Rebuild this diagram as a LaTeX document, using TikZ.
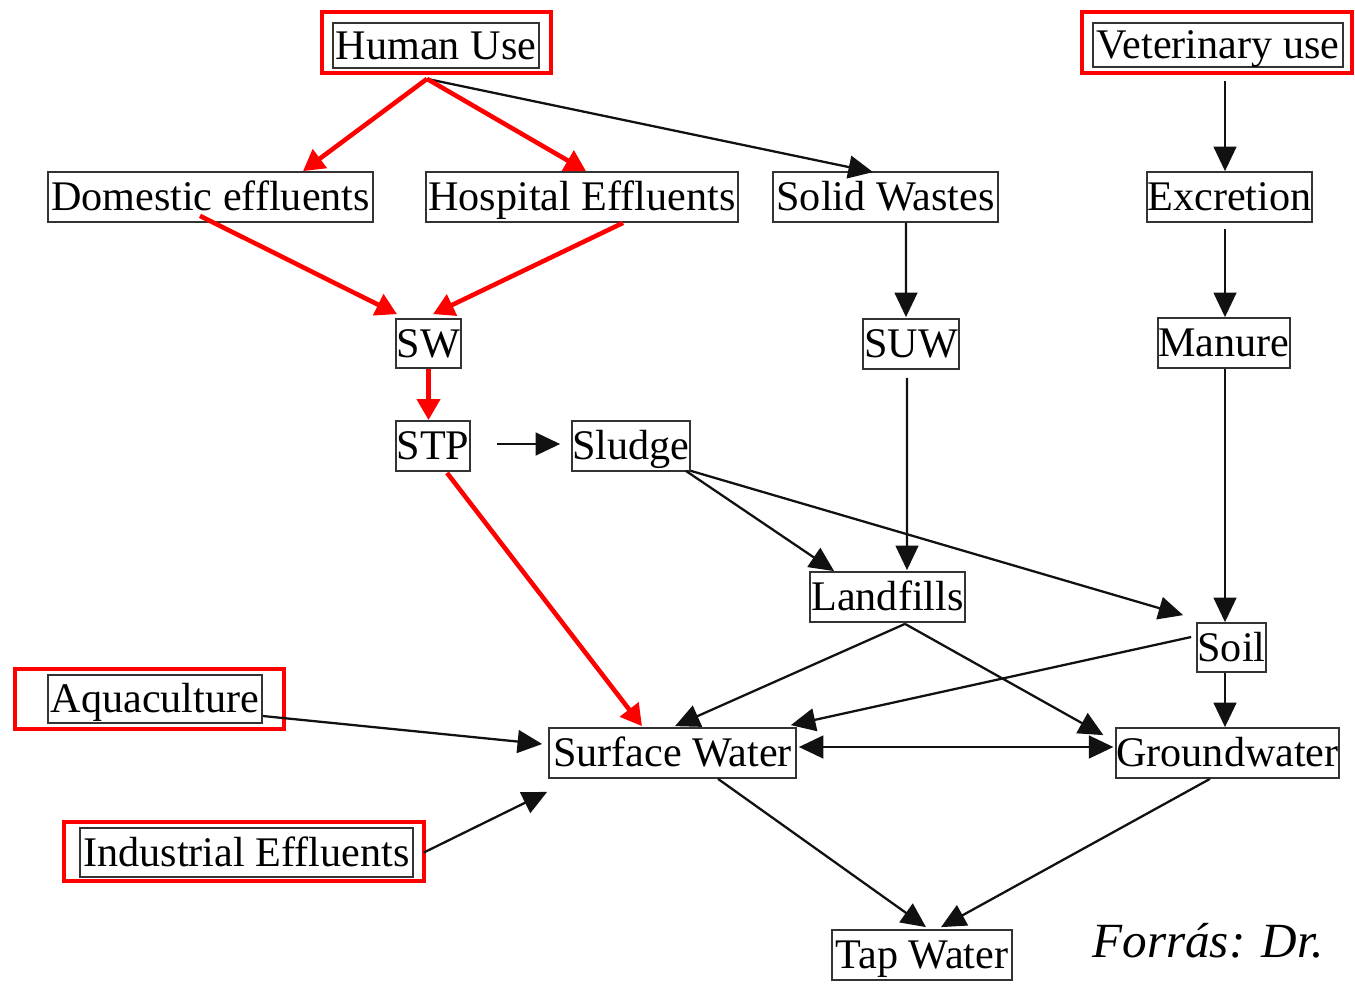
\documentclass[tikz,border=0pt]{standalone}
\usepackage{fontspec}
\setmainfont{Liberation Serif}[Ligatures=NoCommon]
\usepackage{xcolor}
\usepackage{tikz}
\usetikzlibrary{arrows.meta, positioning, calc}
\definecolor{C_RED} {HTML}{FF0000}
\definecolor{C_BOX} {HTML}{333333}
\definecolor{C_LINE}{HTML}{111111}
\tikzset{
  %% -- plain box of the flow chart --
  FL/box/.style={
    draw=C_BOX, line width=1pt, inner sep=0pt,
    minimum height=1cm, align=center,
    text height=17pt, text depth=1.1pt,
    font=\fontsize{24}{26}\selectfont
  },
  %% -- red frame round a source box --
  FL/frame/.style={draw=C_RED, line width=2.6pt},
  %% -- black flow arrow --
  FL/arr/.style={-{Triangle[length=14pt, width=13pt]}, line width=1.3pt, color=C_LINE},
  %% -- black two-way arrow --
  FL/both/.style={{Triangle[length=14pt, width=13pt]}-{Triangle[length=14pt, width=13pt]},
    line width=1.3pt, color=C_LINE},
  %% -- red (human use) arrow --
  FL/red/.style={-{Triangle[length=12pt, width=13pt]}, line width=2.6pt, color=C_RED},
  %% -- source note --
  FL/note/.style={font=\fontsize{28}{30}\selectfont\itshape, inner sep=0pt},
}

\begin{document}
\begin{tikzpicture}[x=0.02cm, y=-0.02cm]
\useasboundingbox (0,0) rectangle (1355,987);

%% ── Sources ──────────────────────────────────────────────────
\node[FL/box, minimum width=4.12cm, minimum height=0.9cm] (hum) at (436,45.5) {Human Use};
\node[FL/box, minimum width=5.0cm, minimum height=0.88cm] (vet) at (1218,45) {Veterinary use};
\node[FL/box, minimum width=4.28cm, minimum height=0.96cm] (aqu) at (155,699) {Aquaculture};
\node[FL/box, minimum width=6.66cm, minimum height=0.98cm] (ind) at (246.5,852.5) {Industrial Effluents};

%% red frames round the sources
\draw[FL/frame] ($(hum.north west)+(-10,-10)$) rectangle ($(hum.south east)+(11,4)$);
\draw[FL/frame] ($(vet.north west)+(-10,-10)$) rectangle ($(vet.south east)+(8,5)$);
\draw[FL/frame] ($(aqu.north west)+(-32,-5)$) rectangle ($(aqu.south east)+(21,5)$);
\draw[FL/frame] ($(ind.north west)+(-15,-5)$) rectangle ($(ind.south east)+(10,3)$);

%% ── Second row ───────────────────────────────────────────────
\node[FL/box, minimum width=6.5cm]  (dom) at (210.5,197) {Domestic effluents};
\node[FL/box, minimum width=6.24cm] (hos) at (582,197)   {Hospital Effluents};
\node[FL/box, minimum width=4.5cm]  (sol) at (885.5,197) {Solid Wastes};
\node[FL/box, minimum width=3.3cm]  (exc) at (1229.5,197) {Excretion};

%% ── Middle ───────────────────────────────────────────────────
\node[FL/box, minimum width=1.3cm, minimum height=0.98cm]  (sw)  at (428.5,343.5) {SW};
\node[FL/box, minimum width=1.92cm] (suw) at (911,344)   {SUW};
\node[FL/box, minimum width=2.64cm] (man) at (1224,343)  {Manure};
\node[FL/box, minimum width=1.48cm] (stp) at (433,446)   {STP};
\node[FL/box, minimum width=2.36cm] (slu) at (631,446)   {Sludge};
\node[FL/box, minimum width=3.1cm]  (lan) at (887.5,597) {Landfills};
\node[FL/box, minimum width=1.38cm, minimum height=0.98cm] (soi) at (1231.5,647.5) {Soil};

%% ── Waters ───────────────────────────────────────────────────
\node[FL/box, minimum width=4.94cm] (suf) at (672.5,753) {Surface Water};
\node[FL/box, minimum width=4.42cm] (gro) at (1227.5,753) {Groundwater};
\node[FL/box, minimum width=3.6cm]  (tap) at (922,955)   {Tap Water};

\node[FL/note, anchor=base west] (src) at (1092,957) {Forrás: Dr.};

%% ── Black arrows ─────────────────────────────────────────────
\draw[FL/arr] ($(hum.south)+(-9,10)$) -- ($(sol.north)+(-12.5,1)$);
\draw[FL/arr] ($(vet.south)+(7,13)$) -- ($(exc.north)+(-4.5,0)$);
\draw[FL/arr] ($(exc.south)+(-4.5,6)$) -- ($(man.north)+(1,0)$);
\draw[FL/arr] ($(sol.south)+(20.5,0)$) -- ($(suw.north)+(-5,-1)$);
\draw[FL/arr] ($(suw.south)+(-4,8)$) -- ($(lan.north)+(19.5,-1)$);
\draw[FL/arr] ($(stp.east)+(26,-2)$) -- ($(slu.west)+(-11,-2)$);
\draw[FL/arr] ($(slu.south east)+(-5,-1)$) -- ($(lan.north west)+(25,0)$);
\draw[FL/arr] ($(slu.south east)+(0,-1)$) -- ($(soi.north west)+(-13,-7)$);
\draw[FL/arr] ($(man.south)+(1,0)$) -- ($(soi.north)+(-6.5,0)$);
\draw[FL/arr] ($(lan.south)+(17.5,1)$) -- ($(suf.north)+(2.5,-1)$);
\draw[FL/arr] ($(lan.south)+(17.5,1)$) -- ($(gro.north west)+(-12,8)$);
\draw[FL/arr] ($(soi.west)+(-5,-10.5)$) -- ($(suf.north east)+(-6,-2)$);
\draw[FL/arr] ($(soi.south)+(-6.5,0)$) -- ($(gro.north)+(-2.5,0)$);
\draw[FL/both] ($(suf.east)+(2,-6)$) -- ($(gro.west)+(-2,-6)$);
\draw[FL/arr] ($(aqu.east)+(0,17)$) -- ($(suf.west)+(-6,-9)$);
\draw[FL/arr] ($(ind.east)+(10,0)$) -- ($(suf.south west)+(-1,13)$);
\draw[FL/arr] ($(suf.south)+(45.5,0)$) -- ($(tap.north)+(4,-2)$);
\draw[FL/arr] ($(gro.south)+(-17.5,0)$) -- ($(tap.north)+(19,-2)$);

%% ── Red arrows (human use path) ──────────────────────────────
\draw[FL/red] ($(hum.south)+(-9,10)$) -- ($(dom.north)+(92.5,0)$);
\draw[FL/red] ($(hum.south)+(-9,10)$) -- ($(hos.north)+(4,0)$);
\draw[FL/red] ($(dom.south)+(-10.5,-7)$) -- ($(sw.north)+(-31.5,-4)$);
\draw[FL/red] ($(hos.south)+(41,0)$) -- ($(sw.north)+(4.5,-4)$);
\draw[FL/red] (sw.south) -- (sw.south |- stp.north);
\draw[FL/red] ($(stp.south)+(14,1)$) -- ($(suf.north)+(-30.5,-1)$);

\end{tikzpicture}
\end{document}
